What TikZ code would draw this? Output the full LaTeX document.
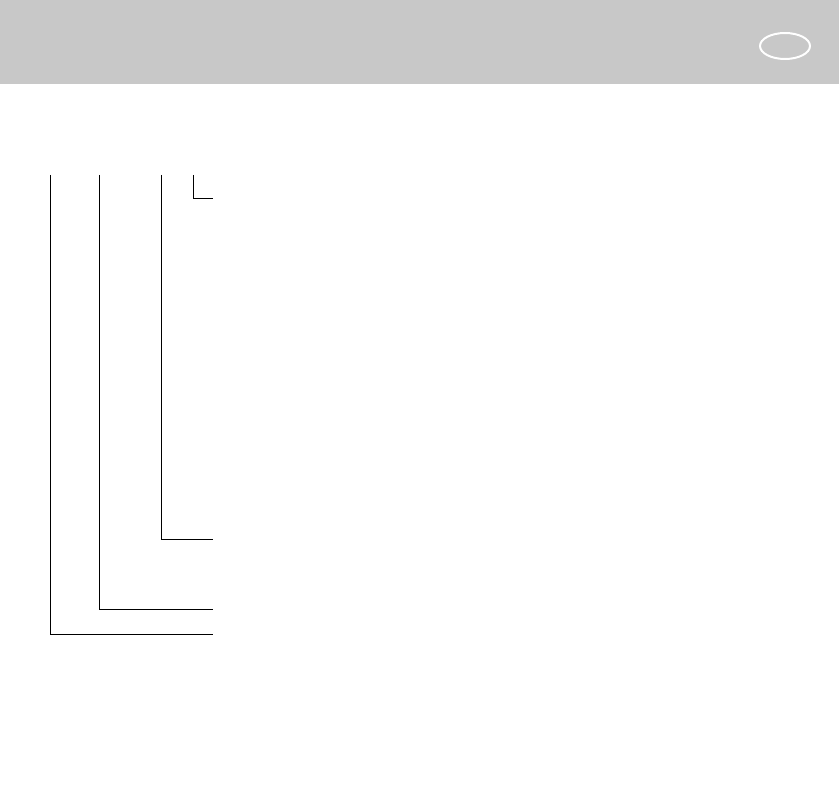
\documentclass[tikz,border=0pt]{standalone}
\usepackage{tikz}
\usetikzlibrary{shapes.geometric}

\begin{document}
\begin{tikzpicture}[x=1pt, y=-1pt]
        \tikzstyle{lead}=[draw=black, line width=1pt]
        \tikzstyle{band}=[fill={rgb,255:red,200;green,200;blue,200}, draw=none]
        \useasboundingbox (0,0) rectangle (839,794);
        \fill[white] (0,0) rectangle (839,794);
        \path [band] (0,0) rectangle (839,84);
        \node (badge) [draw=white, line width=2pt, ellipse, minimum width=50pt, minimum height=26pt, inner sep=0pt] at (785,46) {};
        \coordinate (top1) at (50,175);   \coordinate (end1) at (213,634);
        \coordinate (top2) at (99,175);   \coordinate (end2) at (213,609);
        \coordinate (top3) at (161,175);  \coordinate (end3) at (213,539);
        \coordinate (top4) at (193,175);  \coordinate (end4) at (213,199);
        \draw [lead] (top1) |- (end1);
        \draw [lead] (top2) |- (end2);
        \draw [lead] (top3) |- (end3);
        \draw [lead] (top4) |- (end4);
    \end{tikzpicture}
\end{document}
